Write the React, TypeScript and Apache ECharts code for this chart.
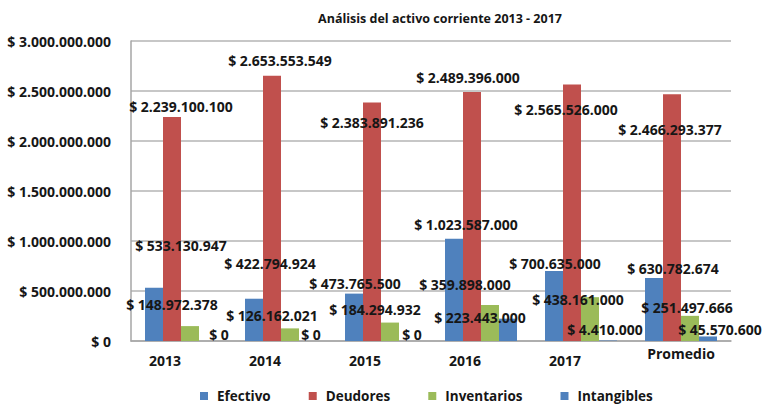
import React, { useEffect, useRef } from "react";
import * as echarts from "echarts";

const titleText = "Análisis del activo corriente 2013 - 2017";
const categories = ["2013", "2014", "2015", "2016", "2017", "Promedio"];
const seriesNames = ["Efectivo", "Deudores", "Inventarios", "Intangibles"];
const efectivo = [533130947, 422794924, 473765500, 1023587000, 700635000, 630782674];
const deudores = [2239100100, 2653553549, 2383891236, 2489396000, 2565526000, 2466293377];
const inventarios = [148972378, 126162021, 184294932, 359898000, 438161000, 251497666];
const intangibles = [0, 0, 0, 223443000, 4410000, 45570600];
const yMin = 0;
const yMax = 3000000000;
const yInterval = 500000000;

// label placement tweaks (style only)
const efectivoShift = [[27, -35], [16, -28], [1, -3], [12, -7], [1, 0], [19, -2]];
const deudoresShift = [[9, -4], [8, -8], [0, 27], [-4, -8], [-6, 32], [-2, 42]];
const inventariosShift = [[-18, -15], [-18, -6], [-15, -6], [-25, -14], [-12, 9], [-3, -1]];
const intangiblesShift = [[11, 0], [3, 0], [4, 0], [-28, 6], [-3, -4], [12, 0]];

const FONT = "Open Sans";

function money(v: number): string {
  return "$ " + String(Math.round(v)).replace(/\B(?=(\d{3})+(?!\d))/g, ".");
}

function makeSeries(name: string, values: number[], color: string, shifts: number[][]) {
  return {
    name,
    type: "bar",
    barGap: "0%",
    barCategoryGap: "28%",
    itemStyle: { color },
    data: values.map((v, i) => ({ value: v, label: { offset: shifts[i] } })),
    label: {
      show: true,
      position: "top",
      distance: 0,
      formatter: (p: any) => money(p.value),
      color: "#161616",
      fontFamily: FONT,
      fontSize: 14,
      fontWeight: "bold",
      lineHeight: 14,
    },
  };
}

export default function App() {
  const ref = useRef<HTMLDivElement>(null);
  useEffect(() => {
    document.body.style.margin = "0";
    const chart = echarts.init(ref.current!, null, { renderer: "svg" });
    chart.setOption({
      animation: false,
      backgroundColor: "#ffffff",
      graphic: [
        {
          type: "text",
          x: 440,
          y: 18,
          style: {
            text: titleText,
            textAlign: "center",
            textVerticalAlign: "middle",
            fontFamily: FONT,
            fontSize: 12.5,
            fontWeight: "bold",
            fill: "#161616",
          },
        },
      ],
      legend: {
        data: seriesNames,
        left: 200,
        top: 389,
        padding: 0,
        icon: "rect",
        itemWidth: 8,
        itemHeight: 8,
        itemGap: 38,
        textStyle: {
          fontFamily: FONT,
          fontSize: 13.5,
          fontWeight: "bold",
          color: "#161616",
          padding: [0, 0, 0, 4],
        },
      },
      grid: { left: 131, right: 33, top: 41, bottom: 65 },
      xAxis: {
        type: "category",
        data: categories.map((c, i) =>
          i === categories.length - 1
            ? { value: c, textStyle: { align: "center", lineHeight: 1 } }
            : c
        ),
        axisTick: { show: false },
        axisLine: { show: true, lineStyle: { color: "#a6a6a6", width: 1.5 } },
        axisLabel: {
          interval: 0,
          align: "right",
          margin: 12,
          color: "#161616",
          fontFamily: FONT,
          fontSize: 14,
          fontWeight: "bold",
          lineHeight: 14,
        },
      },
      yAxis: {
        type: "value",
        min: yMin,
        max: yMax,
        interval: yInterval,
        axisLine: { show: true, lineStyle: { color: "#a6a6a6", width: 1.5 } },
        axisTick: { show: false },
        splitLine: { lineStyle: { color: "#b4b4b4", width: 1.5 } },
        axisLabel: {
          margin: 20,
          formatter: (v: number) => money(v),
          color: "#161616",
          fontFamily: FONT,
          fontSize: 14,
          fontWeight: "bold",
        },
      },
      series: [
        makeSeries(seriesNames[0], efectivo, "#4f81bd", efectivoShift),
        makeSeries(seriesNames[1], deudores, "#c0504d", deudoresShift),
        makeSeries(seriesNames[2], inventarios, "#9bbb59", inventariosShift),
        makeSeries(seriesNames[3], intangibles, "#4f81bd", intangiblesShift),
      ],
    });
    return () => chart.dispose();
  }, []);
  return <div ref={ref} style={{ width: 764, height: 406 }} />;
}
